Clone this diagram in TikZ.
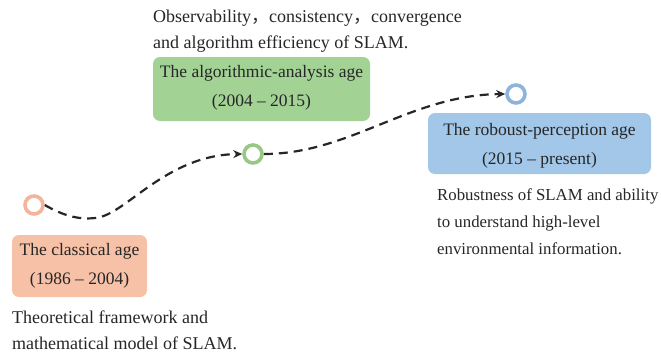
\documentclass[tikz,border=0pt]{standalone}
\usepackage{fontspec}
\setmainfont{Liberation Serif}
\newfontfamily\cjk{Noto Sans CJK SC}
\usetikzlibrary{arrows.meta}
\definecolor{txt}{HTML}{262626}
\definecolor{orfill}{HTML}{F6C1A6}
\definecolor{orring}{HTML}{F2B49B}
\definecolor{grfill}{HTML}{A3D295}
\definecolor{grring}{HTML}{98C786}
\definecolor{blfill}{HTML}{A3C7E8}
\definecolor{blring}{HTML}{8DB5DB}
\tikzset{
  agebox/.style={inner sep=0pt, text=txt,
    font=\fontsize{17.5}{28.5}\selectfont, align=center},
  ring/.style={circle, draw, line width=3.6pt, fill=white, minimum size=18pt, inner sep=0pt},
  note/.style={text=txt, font=\fontsize{18}{25.5}\selectfont, align=left, anchor=north west, inner sep=0pt},
  timeline/.style={line width=2.2pt, dash pattern=on 9pt off 6pt, txt,
    -{Stealth[length=9pt,width=8pt]}}
}
\begin{document}
\begin{tikzpicture}[x=1pt,y=-1pt]
  \useasboundingbox (0,0) rectangle (661,356);
  % period boxes
  \fill[orfill, rounded corners=7pt] (12,235) rectangle (147,297);
  \node[agebox] (classical) at (79.5,266) {The classical age\\(1986 – 2004)};
  \fill[grfill, rounded corners=7pt] (153,57) rectangle (370,121);
  \node[agebox] (algo) at (261.5,88) {The algorithmic-analysis age\\(2004 – 2015)};
  \fill[blfill, rounded corners=7pt] (428,113) rectangle (651,174);
  \node[agebox] (robust) at (539.5,146) {The roboust-perception age\\(2015 – present)};
  % descriptions
  \node[note] (n1) at (12,311) {Theoretical framework and\\mathematical model of SLAM.};
  \node[note] (n2) at (153,10) {Observability{\cjk ，}consistency{\cjk ，}convergence\\and algorithm efficiency of SLAM.};
  \node[note, font=\fontsize{16.8}{27}\selectfont] (n3) at (437,188.5) {Robustness of SLAM and ability\\to understand high-level\\environmental information.};
  % milestones
  \node[ring, draw=orring] (c1) at (34,205) {};
  \node[ring, draw=grring] (c2) at (253,154) {};
  \node[ring, draw=blring] (c3) at (516,94) {};
  % dashed timeline
  \draw[timeline] (c1.east) .. controls (62,215) and (78,220) .. (95,218)
     .. controls (125,216) and (165,155) .. (c2.west);
  \draw[timeline] (c2.east) .. controls (350,154) and (410,95) .. (c3.west);
\end{tikzpicture}
\end{document}
